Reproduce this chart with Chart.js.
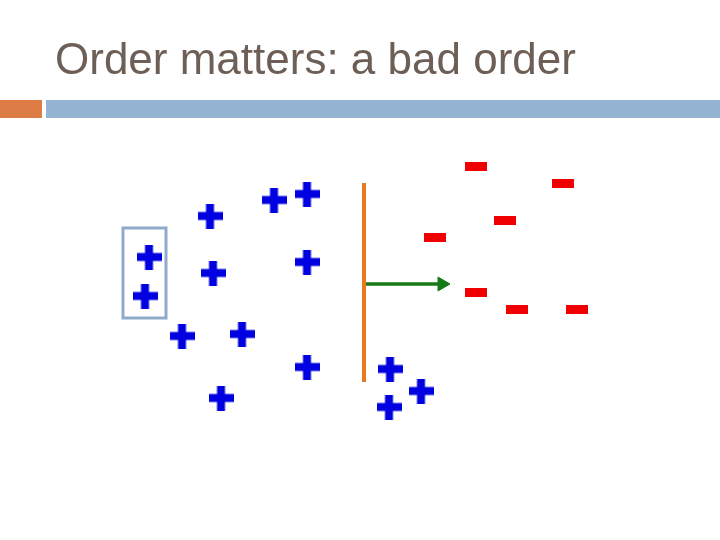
<!DOCTYPE html>
<html>
<head>
<meta charset="utf-8">
<script src="https://cdn.jsdelivr.net/npm/chart.js@4/dist/chart.umd.min.js"></script>
<style>
  html, body { margin: 0; padding: 0; background: #fff; }
  #c { display: block; }
</style>
</head>
<body>
<canvas id="c" width="720" height="540"></canvas>
<script>
const titleText = 'Order matters: a bad order';

// positive examples (slide coordinates)
const plusX = [210, 274, 307, 149, 213, 307, 145, 182, 242, 307, 221, 390, 421, 389];
const plusY = [216, 200, 194, 257, 273, 262, 296, 336, 334, 367, 398, 369, 391, 407];

// negative examples
const minusX = [476, 563, 505, 435, 476, 517, 577];
const minusY = [166, 183, 220, 237, 292, 309, 309];

// highlighted pair
const boxX = [123, 166, 166, 123, 123];
const boxY = [228, 228, 318, 318, 228];

// boundary and its normal
const boundaryX = [364, 364];
const boundaryY = [183, 382];
const arrowX = [364, 442];
const arrowY = [284, 284];

function markImage(w, h, draw) {
  const c = document.createElement('canvas');
  c.width = w; c.height = h;
  draw(c.getContext('2d'));
  return c;
}

const plusImg = markImage(25, 25, g => {
  g.fillStyle = '#0000e0';
  g.fillRect(0, 8.5, 25, 8);
  g.fillRect(8.5, 0, 8, 25);
});
const minusImg = markImage(22, 9, g => {
  g.fillStyle = '#f00000';
  g.fillRect(0, 0, 22, 9);
});

const pts = (xs, ys) => xs.map((x, i) => ({ x: x, y: ys[i] }));

const slidePlugin = {
  id: 'slide',
  beforeDraw(chart) {
    const g = chart.ctx;
    g.save();
    g.fillStyle = '#fff';
    g.fillRect(0, 0, 720, 540);
    g.fillStyle = '#dd7d45';
    g.fillRect(0, 100, 42, 18);
    g.fillStyle = '#95b3d3';
    g.fillRect(46, 100, 674, 18);
    g.fillStyle = '#6d5e56';
    g.font = '44px "Liberation Sans", Arial, sans-serif';
    g.textBaseline = 'alphabetic';
    g.fillText(titleText, 55, 74);
    g.restore();
  }
};

new Chart(document.getElementById('c'), {
  type: 'scatter',
  data: {
    datasets: [
      {
        data: pts(boxX, boxY), showLine: true, pointRadius: 0,
        borderColor: '#8fabcb', borderWidth: 3, fill: false,
        borderCapStyle: 'square', borderJoinStyle: 'miter'
      },
      {
        data: pts(boundaryX, boundaryY), showLine: true, pointRadius: 0,
        borderColor: '#ec7a1c', borderWidth: 4
      },
      {
        data: pts(arrowX, arrowY), showLine: true,
        borderColor: '#167a16', borderWidth: 3.5,
        pointRadius: [0, 8], pointStyle: 'triangle', rotation: 90,
        pointBackgroundColor: '#167a16', pointBorderColor: '#167a16', pointBorderWidth: 1
      },
      {
        data: pts(plusX, plusY), pointStyle: plusImg
      },
      {
        data: pts(minusX, minusY), pointStyle: minusImg
      }
    ]
  },
  options: {
    responsive: false,
    animation: false,
    layout: { padding: 0, autoPadding: false },
    plugins: { legend: { display: false }, tooltip: { enabled: false }, title: { display: false } },
    scales: {
      x: { type: 'linear', min: 0, max: 720, display: false },
      y: { type: 'linear', min: 0, max: 540, reverse: true, display: false }
    },
    elements: { line: { tension: 0 } }
  },
  plugins: [slidePlugin]
});
</script>
</body>
</html>
